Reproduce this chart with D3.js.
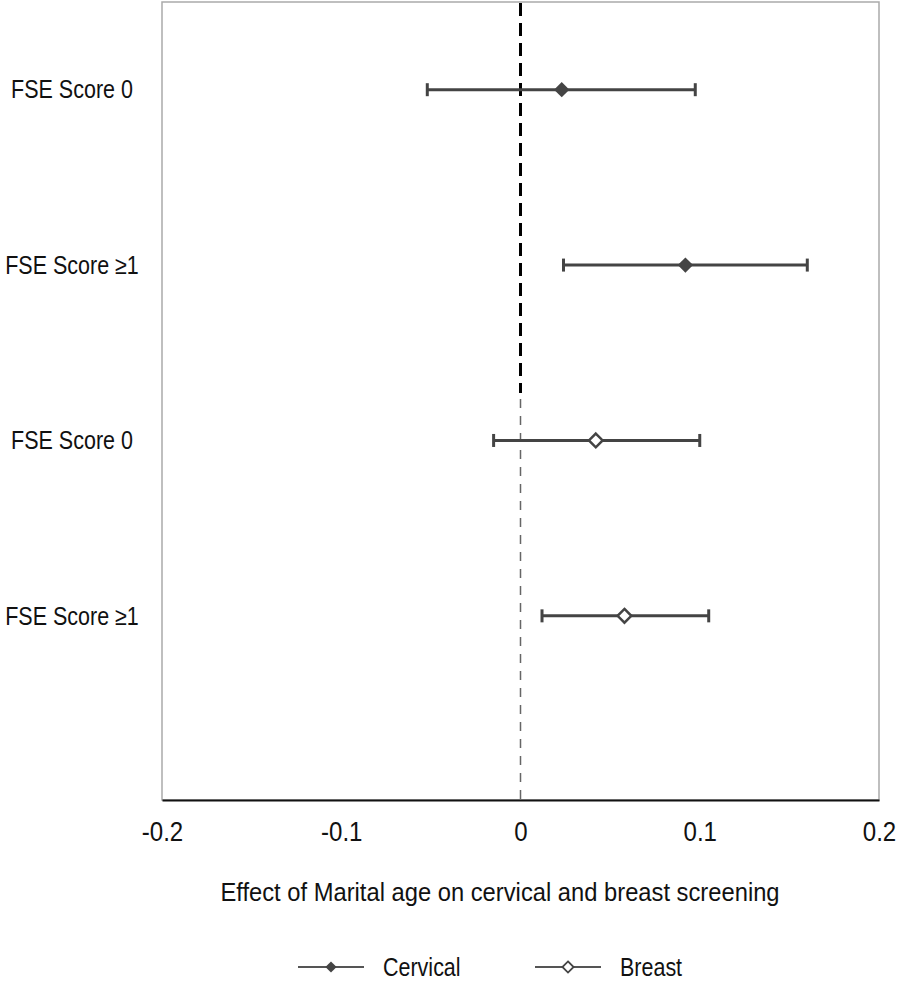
<!DOCTYPE html>
<html lang="en">
<head>
<meta charset="UTF-8">
<title>Forest plot</title>
<script src="https://d3js.org/d3.v7.min.js"></script>
<style>
  body { margin: 0; background: #fff; }
  text { font-family: "Liberation Sans", Arial, Helvetica, sans-serif; fill: #111; }
</style>
</head>
<body>
<div id="chart"></div>
<script>
// rows top to bottom
var labels = ["FSE Score 0", "FSE Score \u22651", "FSE Score 0", "FSE Score \u22651"];
var group  = ["Cervical", "Cervical", "Breast", "Breast"];
var rowPos = [4, 3, 2, 1];
var est    = [0.023, 0.092, 0.042, 0.058];
var lower  = [-0.052, 0.024, -0.015, 0.012];
var upper  = [0.0975, 0.160, 0.100, 0.105];
var xTicks = [-0.2, -0.1, 0, 0.1, 0.2];
var xTickLabels = ["-0.2", "-0.1", "0", "0.1", "0.2"];
var legendItems = ["Cervical", "Breast"];

var W = 899, H = 985;
var plotL = 162, plotR = 879, plotT = 2, plotB = 800;
var squeeze = 0.86; // narrow look of the original font

var svg = d3.select("#chart").append("svg")
    .attr("width", W).attr("height", H);

var x = d3.scaleLinear().domain([-0.2, 0.2]).range([plotL, plotR]);
var y = d3.scaleLinear().domain([-0.05, 4.5]).range([plotB, plotT]);

// frame
svg.append("rect")
    .attr("x", plotL).attr("y", plotT)
    .attr("width", plotR - plotL).attr("height", plotB - plotT)
    .attr("fill", "none").attr("stroke", "#aaa").attr("stroke-width", 1.5);

// zero reference line: bold upper part (cervical), thin lower part (breast)
var mid = y(2.27);
svg.append("line")
    .attr("x1", x(0)).attr("x2", x(0)).attr("y1", plotT + 1).attr("y2", mid)
    .attr("stroke", "#000").attr("stroke-width", 3).attr("stroke-dasharray", "13,7");
svg.append("line")
    .attr("x1", x(0)).attr("x2", x(0)).attr("y1", mid + 6).attr("y2", plotB)
    .attr("stroke", "#666").attr("stroke-width", 1.5).attr("stroke-dasharray", "9,8");

// x axis
var xAxis = d3.axisBottom(x).tickValues(xTicks).tickSize(0).tickPadding(0)
    .tickFormat(function(d, i) { return xTickLabels[i]; });
var ax = svg.append("g").attr("transform", "translate(0," + plotB + ")").call(xAxis);
ax.select(".domain").attr("stroke", "#111").attr("stroke-width", 2);
ax.selectAll("text")
    .attr("y", 0).attr("dy", 0)
    .attr("transform", "translate(0,41) scale(" + squeeze + ",1)")
    .style("font-size", "28px").attr("fill", "#111");

svg.append("text")
    .attr("transform", "translate(500,901) scale(0.95,1)")
    .attr("text-anchor", "middle")
    .style("font-size", "25px")
    .text("Effect of Marital age on cervical and breast screening");

// row labels
svg.selectAll(".rowlab").data(labels).enter().append("text")
    .attr("class", "rowlab")
    .attr("transform", function(d, i) { return "translate(72," + y(rowPos[i]) + ") scale(" + squeeze + ",1)"; })
    .attr("dy", "0.35em")
    .attr("text-anchor", "middle")
    .style("font-size", "25px")
    .text(function(d) { return d; });

var ink = "#444";
var rows = svg.selectAll(".row").data(est).enter().append("g").attr("class", "row");

rows.append("line")
    .attr("x1", function(d, i) { return x(lower[i]); })
    .attr("x2", function(d, i) { return x(upper[i]); })
    .attr("y1", function(d, i) { return y(rowPos[i]); })
    .attr("y2", function(d, i) { return y(rowPos[i]); })
    .attr("stroke", ink).attr("stroke-width", 3);

[lower, upper].forEach(function(arr) {
  rows.append("line")
      .attr("x1", function(d, i) { return x(arr[i]); })
      .attr("x2", function(d, i) { return x(arr[i]); })
      .attr("y1", function(d, i) { return y(rowPos[i]) - 6.5; })
      .attr("y2", function(d, i) { return y(rowPos[i]) + 6.5; })
      .attr("stroke", ink).attr("stroke-width", 3);
});

var diamond = d3.symbol().type(d3.symbolDiamond2);
rows.append("path")
    .attr("d", function(d, i) { return diamond.size(group[i] === "Cervical" ? 150 : 120)(); })
    .attr("transform", function(d, i) { return "translate(" + x(d) + "," + y(rowPos[i]) + ")"; })
    .attr("fill", function(d, i) { return group[i] === "Cervical" ? ink : "#fff"; })
    .attr("stroke", ink)
    .attr("stroke-width", function(d, i) { return group[i] === "Cervical" ? 0 : 2.5; });

// legend
var legX = [298, 535];
var legY = 967;
var lg = svg.selectAll(".leg").data(legendItems).enter().append("g")
    .attr("class", "leg")
    .attr("transform", function(d, i) { return "translate(" + legX[i] + "," + legY + ")"; });
lg.append("line").attr("x1", 0).attr("x2", 66).attr("y1", 0).attr("y2", 0)
    .attr("stroke", "#555").attr("stroke-width", 2);
lg.append("path")
    .attr("d", diamond.size(80)())
    .attr("transform", "translate(33,0)")
    .attr("fill", function(d) { return d === "Cervical" ? "#444" : "#fff"; })
    .attr("stroke", "#444").attr("stroke-width", function(d) { return d === "Cervical" ? 0 : 1.8; });
lg.append("text")
    .attr("transform", "translate(85,0) scale(" + squeeze + ",1)")
    .attr("dy", "0.35em")
    .style("font-size", "25px")
    .text(function(d) { return d; });
</script>
</body>
</html>
